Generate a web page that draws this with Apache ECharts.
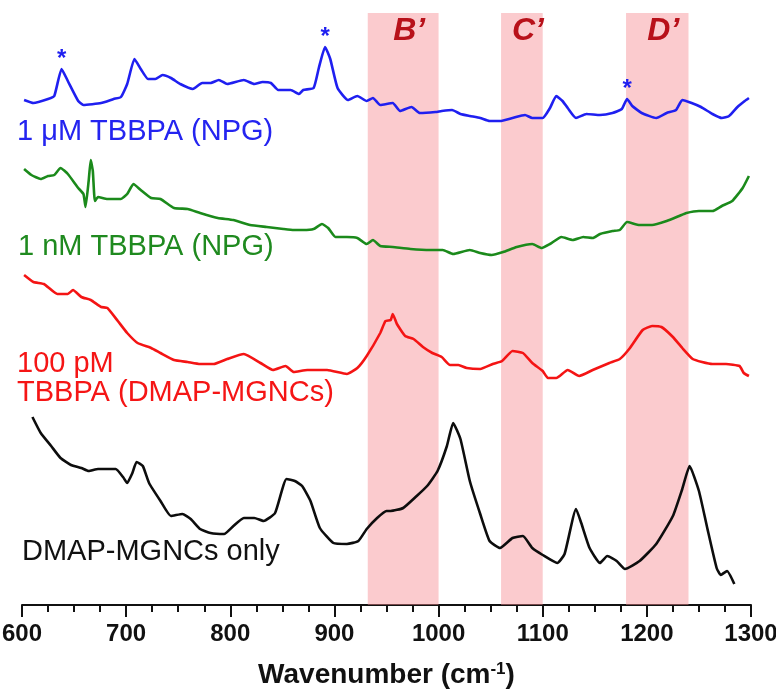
<!DOCTYPE html>
<html><head><meta charset="utf-8">
<script src="https://cdn.jsdelivr.net/npm/echarts@6/dist/echarts.min.js"></script>
<style>html,body{margin:0;padding:0;background:#fff}#c{width:776px;height:692px}</style>
</head><body><div id="c"></div>
<script>
// Wavenumber (cm-1) / intensity (a.u., offset traces)
const blueW = [602,611,625,631,638,644,654,659,676,688,695,701,708,714,721,728,735,743,752,764,773,781,789,797,813,823,831,839,846,858,866,870,880,885,891,896,903,913,922,931,937,944,956,963,974,982,997,1003,1013,1021,1030,1040,1049,1059,1071,1083,1090,1100,1107,1113,1119,1124,1132,1142,1155,1167,1176,1181,1186,1195,1209,1219,1228,1234,1243,1252,1263,1272,1279,1287,1294,1298];
const blueV = [505,502,506,509,536,524,504,500,502,506,508,521,546,536,526,526,530,527,521,516,522,522,525,521,525,521,523,522,515,515,511,515,517,537,558,546,517,505,509,504,507,500,502,494,498,492,493,494,495,491,489,487,484,484,487,490,487,487,497,509,504,497,487,491,490,492,496,506,499,492,487,492,495,505,502,498,491,487,489,498,504,507];

const greenW = [602,609,618,625,631,637,644,654,659,661,664,666,668,670,673,682,695,701,707,714,724,733,746,759,771,788,803,819,835,851,861,870,880,888,894,901,912,922,931,937,944,956,973,992,1004,1014,1030,1040,1051,1062,1075,1090,1099,1107,1118,1129,1139,1148,1155,1167,1174,1181,1193,1205,1219,1231,1238,1250,1263,1272,1282,1292,1298];
const greenV = [436,430,426,429,430,437,431,417,411,398,424,445,434,404,408,406,406,411,421,415,407,406,397,396,392,387,385,380,378,376,375,375,376,381,377,368,368,367,361,365,359,358,356,355,355,351,355,352,350,353,358,361,357,361,368,365,368,367,371,374,375,383,380,380,384,389,392,394,394,399,404,417,429];

const redW = [602,611,621,634,644,649,657,666,676,682,692,701,711,724,733,746,759,771,784,797,813,829,841,853,861,874,893,912,922,931,944,949,954,956,960,968,976,985,994,1003,1011,1019,1027,1040,1052,1061,1071,1081,1090,1100,1105,1113,1124,1135,1148,1164,1174,1183,1196,1205,1214,1225,1234,1244,1253,1263,1276,1289,1293,1298];
const redV = [330,323,321,311,311,315,308,305,298,297,284,272,262,257,252,245,243,241,241,246,251,242,235,239,233,235,235,231,237,249,272,284,285,291,281,269,266,258,252,248,240,240,237,236,241,244,254,252,242,234,227,227,235,229,235,242,246,256,275,279,278,268,257,246,243,241,241,239,232,229];

const blackW = [610,618,628,637,647,657,664,673,682,690,697,701,706,710,716,722,733,743,754,762,771,781,794,803,813,823,832,843,854,862,869,877,886,899,912,923,931,941,950,954,966,979,989,999,1008,1014,1021,1030,1040,1049,1059,1071,1081,1090,1100,1114,1121,1132,1137,1145,1155,1162,1171,1179,1193,1209,1225,1234,1241,1250,1258,1267,1271,1277,1284];
const blackV = [188,172,159,147,140,137,134,136,136,136,128,122,132,143,139,122,104,89,91,86,76,72,71,79,87,87,84,92,126,124,119,104,77,62,61,64,76,87,94,94,97,109,119,134,159,182,166,124,91,64,57,67,69,57,50,42,51,96,82,57,42,49,44,36,44,61,89,116,139,114,77,37,30,34,21];

// shaded regions
const bandNames = ['B\u2019','C\u2019','D\u2019'];
const bandStart = [932,1060,1180];
const bandEnd = [1000,1100,1240];

// starred peaks (1 μM trace)
const starW = [638,891,1181];
const starV = [536,558,506];

const xMin = 600, xMax = 1300, majorStep = 100, minorStep = 25;

const zip = (w,v) => w.map((x,i)=>[x,v[i]]);
const chart = echarts.init(document.getElementById('c'));
const FONT = '"Liberation Sans", Arial, sans-serif';

function trace(name, w, v, color, extra){
  return Object.assign({
    name, type:'line', data: zip(w,v), showSymbol:false, smooth:0.15,
    lineStyle:{color, width:2.6}, itemStyle:{color}, z:2, silent:true
  }, extra||{});
}

chart.setOption({
  animation:false,
  backgroundColor:'#fff',
  grid:{left:22, right:25, top:13, bottom:87, outerBoundsMode:'none', containLabel:false},
  xAxis:[{
    type:'value', min:xMin, max:xMax, interval:majorStep,
    axisLine:{show:true, onZero:false, lineStyle:{color:'#111', width:2}},
    axisTick:{show:true, length:12, inside:false, lineStyle:{color:'#111', width:2}},
    splitLine:{show:false},
    axisLabel:{color:'#111', fontSize:24, fontWeight:'bold', fontFamily:FONT, margin:17, formatter:(v)=>String(v)},
    name:'Wavenumber (cm{sup|-1})', nameLocation:'middle', nameGap:56,
    nameTextStyle:{color:'#111', fontSize:28, fontWeight:'bold', fontFamily:FONT,
      rich:{sup:{fontSize:17, fontWeight:'bold', fontFamily:FONT, color:'#111', verticalAlign:'top', padding:[0,0,12,0]}}}
  },{
    type:'value', min:xMin, max:xMax, interval:minorStep, position:'bottom', offset:0,
    axisLine:{show:false, onZero:false},
    axisTick:{show:true, length:7, inside:false, lineStyle:{color:'#111', width:2}},
    axisLabel:{show:false}, splitLine:{show:false}
  }],
  yAxis:{type:'value', min:0, max:592, show:false},
  series:[
    trace('1 μM TBBPA (NPG)', blueW, blueV, '#1f1ff0', {
      markPoint:{
        symbol:'circle', symbolSize:1, itemStyle:{color:'rgba(0,0,0,0)'},
        label:{show:true, position:'inside', offset:[0,-10], formatter:'*', color:'#1f1ff0', fontSize:24, fontWeight:'bold', fontFamily:FONT},
        data: starW.map((w,i)=>({coord:[w, starV[i]]}))
      }
    }),
    trace('1 nM TBBPA (NPG)', greenW, greenV, '#1b8a1b'),
    trace('100 pM TBBPA (DMAP-MGNCs)', redW, redV, '#f41414'),
    trace('DMAP-MGNCs only', blackW, blackV, '#0d0d0d'),
    {
      type:'line', data:[], z:10, silent:true,
      markArea:{
        silent:true,
        itemStyle:{color:'rgba(246,140,146,0.45)'},
        label:{show:true, position:'insideTop', distance:2, offset:[6,0], color:'#b8111a', fontSize:32, fontWeight:'bold', fontStyle:'italic', fontFamily:FONT},
        data: bandNames.map((n,i)=>[{name:n, xAxis:bandStart[i]},{xAxis:bandEnd[i]}])
      }
    }
  ],
  graphic:[
    {type:'text', left:17, top:117, style:{text:'1 \u03bcM TBBPA (NPG)', fill:'#2424f0', font:'29px "Liberation Sans", Arial, sans-serif'}},
    {type:'text', left:18, top:232, style:{text:'1 nM TBBPA (NPG)', fill:'#1f8a1f', font:'29px "Liberation Sans", Arial, sans-serif'}},
    {type:'text', left:17, top:349, style:{text:'100 pM', fill:'#f51515', font:'29px "Liberation Sans", Arial, sans-serif'}},
    {type:'text', left:17, top:378, style:{text:'TBBPA (DMAP-MGNCs)', fill:'#f51515', font:'29px "Liberation Sans", Arial, sans-serif'}},
    {type:'text', left:22, top:537, style:{text:'DMAP-MGNCs only', fill:'#111', font:'29px "Liberation Sans", Arial, sans-serif'}}
  ]
});
</script></body></html>
